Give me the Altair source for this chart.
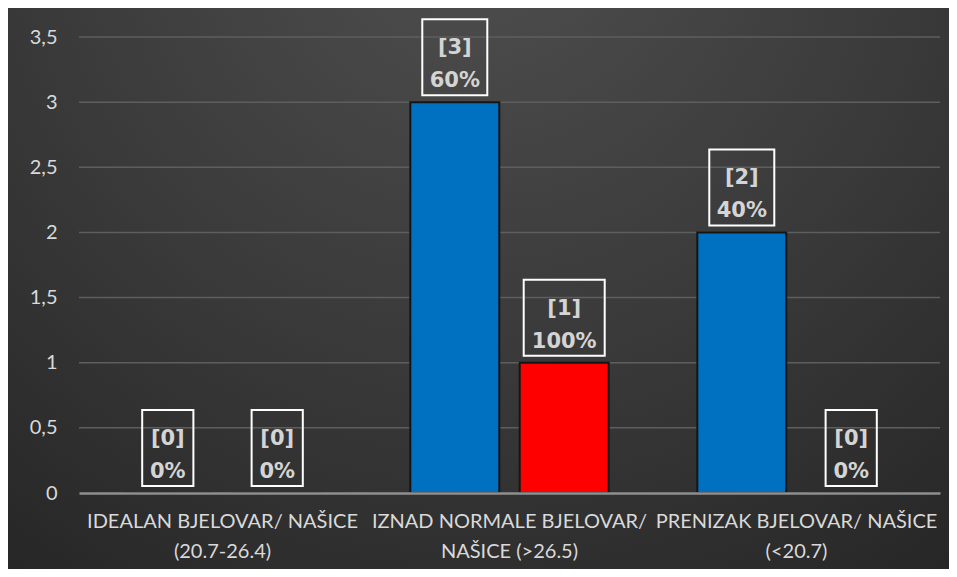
import json
import altair as alt
import pandas as pd

# ---- data ----
categories = [
    "IDEALAN BJELOVAR/ NAŠICE (20.7-26.4)",
    "IZNAD NORMALE BJELOVAR/ NAŠICE (>26.5)",
    "PRENIZAK BJELOVAR/ NAŠICE (<20.7)",
]
label_line1 = ["IDEALAN BJELOVAR/ NAŠICE", "IZNAD NORMALE BJELOVAR/", "PRENIZAK BJELOVAR/ NAŠICE"]
label_line2 = ["(20.7-26.4)", "NAŠICE (>26.5)", "(<20.7)"]
series_names = ["Bjelovar", "Našice"]
bjelovar_counts = [0, 3, 2]
nasice_counts = [0, 1, 0]
bjelovar_pct = ["0%", "60%", "40%"]
nasice_pct = ["0%", "100%", "0%"]
y_ticks = [0, 0.5, 1, 1.5, 2, 2.5, 3, 3.5]
series_colors = ["#0070C0", "#FF0000"]

rows = []
for s, counts, pcts in [(series_names[0], bjelovar_counts, bjelovar_pct),
                        (series_names[1], nasice_counts, nasice_pct)]:
    for c, v, p in zip(categories, counts, pcts):
        rows.append({"cat": c, "series": s, "value": v,
                     "lbl": f"[{v}]\n{p}", "w": len(p)})
df = pd.DataFrame(rows)

W, H = 861, 456
PAD = {"left": 71, "top": 29, "right": 9, "bottom": 76}

label_expr = " : ".join(
    f"datum.value === {json.dumps(c, ensure_ascii=False)} ? "
    f"[{json.dumps(a, ensure_ascii=False)}, {json.dumps(b, ensure_ascii=False)}]"
    for c, a, b in zip(categories, label_line1, label_line2)
) + " : datum.value"

x_enc = alt.X("cat:N", sort=categories, title=None,
              scale=alt.Scale(paddingInner=0, paddingOuter=0),
              axis=alt.Axis(labelExpr=label_expr, labelAngle=0, labelFont="Lato",
                            labelFontSize=20, labelColor="#d9d9d9", labelLineHeight=30,
                            labelPadding=18, labelLimit=400, labelOverlap=False,
                            ticks=False, domain=True, domainColor="#8f8f8f",
                            domainWidth=2.5, grid=False, zindex=2))
xoff_enc = alt.XOffset("series:N", sort=series_names,
                       scale=alt.Scale(paddingInner=0.187, paddingOuter=0.405))
y_scale = alt.Scale(domain=[0, 3.5], nice=False)
y_enc = alt.Y("value:Q", scale=y_scale, title=None,
              axis=alt.Axis(values=y_ticks, labelExpr="replace('' + datum.value, '.', ',')",
                            labelFont="Lato", labelFontSize=20, labelColor="#d9d9d9",
                            labelPadding=22, ticks=False, tickSize=0, domain=False,
                            grid=False, zindex=2))

# background gradient panel (decoration)
bg = alt.Chart(alt.Data(values=[{}])).mark_rect(
    color=alt.RadialGradient(
        gradient="radial", x1=0.5, y1=0.1, r1=0, x2=0.5, y2=0.1, r2=0.85,
        stops=[alt.GradientStop(offset=0, color="#4f4f4f"),
               alt.GradientStop(offset=0.55, color="#3a3a3a"),
               alt.GradientStop(offset=1, color="#272727")]),
).encode(x=alt.value(-PAD["left"]), x2=alt.value(W + PAD["right"]),
         y=alt.value(-PAD["top"]), y2=alt.value(H + PAD["bottom"]))

grid = alt.Chart(pd.DataFrame({"t": y_ticks[1:]})).mark_rule(
    color="#5e5e5e", strokeWidth=1.5
).encode(y=alt.Y("t:Q", scale=y_scale))

bars = alt.Chart(df).mark_bar(stroke="#151515", strokeWidth=2).encode(
    x=x_enc, xOffset=xoff_enc, y=y_enc,
    color=alt.Color("series:N", scale=alt.Scale(domain=series_names, range=series_colors),
                    legend=None),
)

def box(hw, hh=0.95):
    return f"M{-hw},{-hh}H{hw}V{hh}H{-hw}Z"

boxes = alt.Chart(df).mark_point(filled=False, stroke="white", strokeWidth=2,
                                  size=6400, opacity=1, yOffset=-45).encode(
    x=alt.X("cat:N", sort=categories), xOffset=xoff_enc, y=alt.Y("value:Q", scale=y_scale),
    shape=alt.Shape("w:O", scale=alt.Scale(domain=[2, 3, 4],
                                           range=[box(0.64), box(0.8125), box(1.0125)]),
                    legend=None),
)

texts = alt.Chart(df).mark_text(font="DejaVu Sans", fontSize=21, fontWeight="bold",
                                color="#d4d4d4", lineHeight=33, baseline="middle",
                                lineBreak="\n", yOffset=-54).encode(
    x=alt.X("cat:N", sort=categories), xOffset=xoff_enc, y=alt.Y("value:Q", scale=y_scale),
    text="lbl:N",
)

chart = alt.layer(bg, grid, bars, boxes, texts).properties(
    width=W, height=H, padding=PAD, autosize="none", background="#2e2e2e"
).configure_view(stroke=None)

chart.save("out.html", embed_options={"renderer": "svg", "actions": False})
